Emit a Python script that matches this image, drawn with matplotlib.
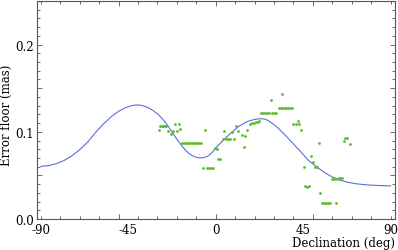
import numpy as np
import matplotlib
matplotlib.use("Agg")
import matplotlib.pyplot as plt
import matplotlib.ticker as ticker

# model curve
curve_dec = [-90, -86, -82, -78, -74, -70, -66, -62, -58, -54, -50, -48, -46, -44,
             -42, -40, -38, -36, -34, -32, -30, -28, -26, -24, -22, -20, -18, -16,
             -14, -12, -10, -8, -6, -4, -2, 1, 4, 8, 12, 16, 18, 20, 22, 24, 26,
             28, 32, 36, 40, 44, 48, 52, 56, 60, 64, 68, 72, 76, 80, 85, 90]
curve_val = [0.0603, 0.0612, 0.0635, 0.0672, 0.0725, 0.0795, 0.0880, 0.0990,
             0.1085, 0.1170, 0.1235, 0.1260, 0.1280, 0.1295, 0.1305, 0.1308,
             0.1302, 0.1288, 0.1268, 0.1240, 0.1205, 0.1162, 0.1110, 0.1048,
             0.0980, 0.0915, 0.0855, 0.0800, 0.0755, 0.0726, 0.0707, 0.0700,
             0.0705, 0.0722, 0.0760, 0.0840, 0.0905, 0.0990, 0.1065, 0.1115,
             0.1130, 0.1141, 0.1148, 0.1150, 0.1140, 0.1115, 0.1045, 0.0955,
             0.0860, 0.0765, 0.0665, 0.0598, 0.0532, 0.0482, 0.0446, 0.0421,
             0.0405, 0.0395, 0.0388, 0.0383, 0.0380]

# measured error floors
pts_dec = [-29.4, -28.6, -27.8, -27.0, -26.2, -25.4, -24.4, -23.2, -22.2, -21.0,
           -20.1, -19.1, -18.2,
           -17.4, -16.4, -15.4, -14.4, -13.4, -12.4, -11.4, -10.4, -9.4, -8.4, -7.4,
           -5.4, -6.4, -4.4, -3.4, -2.4, -1.4, -0.4, 0.8, 1.3, 2.3,
           3.6, 4.4, 5.3, 6.3, 7.3, 8.6, 9.4, 10.5, 11.3,
           13.4, 15.3, 14.3, 16.3, 17.7, 18.7, 19.7, 20.7, 21.7, 22.5,
           23.4, 24.4, 25.4, 26.4, 27.4, 29.0, 30.0, 31.2, 28.3,
           32.4, 33.4, 34.4, 35.4, 36.4, 37.4, 38.4, 39.2, 34.0,
           40.0, 41.2, 42.1, 43.1, 44.0, 45.2, 49.0, 50.0, 51.2, 52.2, 52.9,
           46.0, 47.0, 48.2, 53.8, 54.6, 55.6, 56.6, 57.6, 58.6, 61.9,
           59.8, 61.0, 62.2, 63.2, 64.2, 65.0, 65.8, 66.6, 67.5, 68.9]
pts_val = [0.1015, 0.1066, 0.1066, 0.1066, 0.1066, 0.1066, 0.1008, 0.0977, 0.1008, 0.1088,
           0.1008, 0.1088, 0.1034,
           0.0866, 0.0866, 0.0866, 0.0866, 0.0866, 0.0866, 0.0866, 0.0866, 0.0866, 0.0866, 0.0866,
           0.1015, 0.0582, 0.0582, 0.0582, 0.0582, 0.0582, 0.0812, 0.0805, 0.0686, 0.0686,
           0.0912, 0.1008, 0.0912, 0.0912, 0.0912, 0.0996, 0.0912, 0.1066, 0.1008,
           0.0969, 0.0955, 0.0824, 0.1025, 0.1095, 0.1100, 0.1105, 0.1110, 0.1115, 0.1120,
           0.1218, 0.1218, 0.1218, 0.1218, 0.1218, 0.1218, 0.1218, 0.1218, 0.1368,
           0.1268, 0.1268, 0.1268, 0.1268, 0.1268, 0.1268, 0.1268, 0.1268, 0.1429,
           0.1084, 0.1084, 0.1123, 0.1084, 0.1023, 0.0594, 0.0720, 0.0651, 0.0594, 0.0594, 0.0874,
           0.0383, 0.0372, 0.0383, 0.0295, 0.0180, 0.0180, 0.0180, 0.0180, 0.0180, 0.0180,
           0.0460, 0.0460, 0.0460, 0.0468, 0.0475, 0.0475, 0.0889, 0.0927, 0.0927, 0.0862]

xtick_labels = [-90, -45, 0, 45, 90]

plt.rcParams["font.family"] = ["DejaVu Serif"]
plt.rcParams["font.size"] = 8.5

FRAME = "#555555"
FS = 8.5

fig = plt.figure(figsize=(3.98, 2.51), dpi=100)
ax = fig.add_axes([37 / 398, 1 - 220 / 251, 357.5 / 398, 218 / 251])

ax.plot(curve_dec, curve_val, color="#5a6fdc", lw=0.8, zorder=2)
ax.plot(pts_dec, pts_val, "o", color="#5cba2e", ms=2.0, mec="none", zorder=3)

ax.set_xlim(-92, 92)
ax.set_ylim(0, 0.25)

for s in ax.spines.values():
    s.set_color(FRAME)
    s.set_linewidth(0.8)

# frame ticks pointing in, labels handled separately for x
ax.xaxis.set_major_locator(ticker.MultipleLocator(50))
ax.xaxis.set_minor_locator(ticker.MultipleLocator(10))
ax.yaxis.set_major_locator(ticker.MultipleLocator(0.05))
ax.yaxis.set_minor_locator(ticker.MultipleLocator(0.01))
ax.tick_params(which="both", direction="in", top=True, right=True,
               color=FRAME, width=0.6)
ax.tick_params(which="major", length=3.5)
ax.tick_params(which="minor", length=2)
ax.tick_params(axis="x", labelbottom=False)
ax.yaxis.set_major_formatter(ticker.FuncFormatter(
    lambda v, p: "%.1f" % v if abs(v * 10 - round(v * 10)) < 1e-6 else ""))
ax.tick_params(axis="y", pad=2.5, labelsize=FS)

sec = ax.secondary_xaxis("bottom")
sec.set_xticks(xtick_labels)
sec.set_xticklabels([str(v) for v in xtick_labels])
sec.tick_params(length=0, pad=3, labelsize=FS)
sec.spines["bottom"].set_visible(False)

sec.set_xlabel("Declination (deg)", loc="right", labelpad=0, fontsize=FS)
ax.set_ylabel("Error floor (mas)", fontsize=FS)
ax.yaxis.set_label_coords(-24 / 357.5, 0.48)

fig.savefig("out.png", dpi=100)
